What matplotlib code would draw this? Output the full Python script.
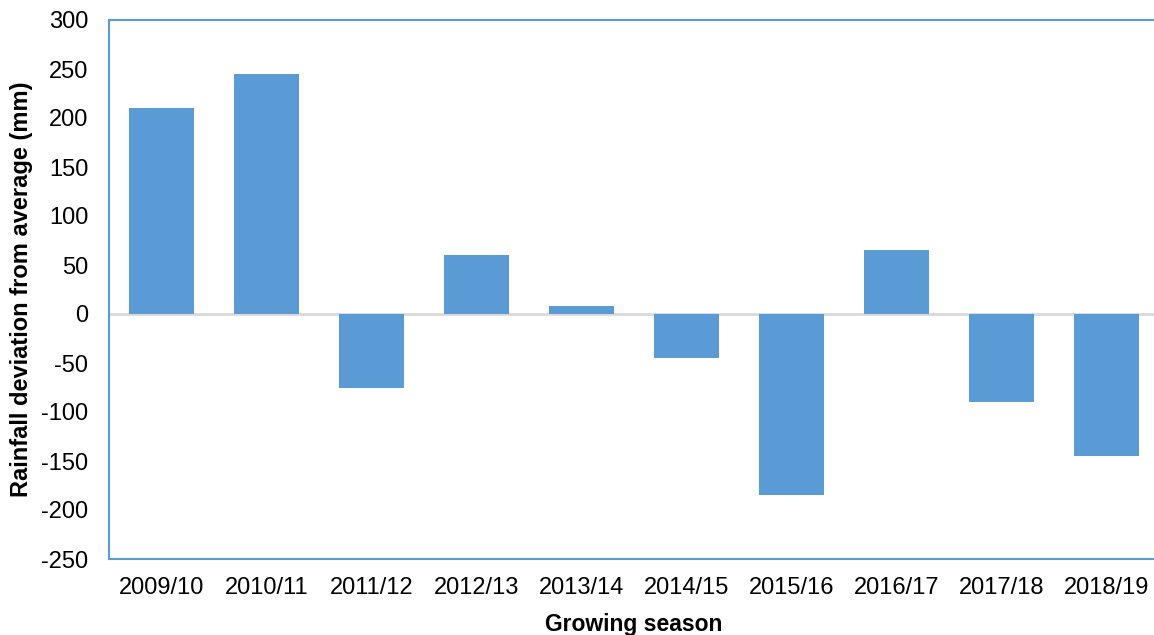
import numpy as np
import matplotlib
matplotlib.use('Agg')
import matplotlib.pyplot as plt

plt.rcParams['font.family'] = ['Liberation Sans', 'DejaVu Sans']
plt.rcParams['axes.unicode_minus'] = False

seasons = ['2009/10', '2010/11', '2011/12', '2012/13', '2013/14',
           '2014/15', '2015/16', '2016/17', '2017/18', '2018/19']
deviation = [210, 245, -75, 60, 8, -45, -185, 65, -90, -145]

bar_color = '#5B9BD5'
frame_color = '#5B9BD5'

fig = plt.figure(figsize=(11.54, 6.35), dpi=100)
ax = fig.add_axes([109/1154, 76/635, 1050/1154, 539/635])

x = np.arange(len(seasons))
ax.bar(x, deviation, width=0.62, color=bar_color, zorder=3)
ax.axhline(0, color='#D9D9D9', linewidth=2, zorder=2)

ax.set_xlim(-0.5, len(seasons) - 0.5)
ax.set_ylim(-250, 300)
ax.set_yticks(np.arange(-250, 301, 50))
ax.set_xticks(x)
ax.set_xticklabels(seasons)
ax.tick_params(axis='both', length=0, labelsize=17)
ax.tick_params(axis='x', pad=13)
ax.tick_params(axis='y', pad=15)

for s in ax.spines.values():
    s.set_color(frame_color)
    s.set_linewidth(1.5)

ax.set_xlabel('Growing season', fontsize=16.5, fontweight='bold', labelpad=10)
ax.set_ylabel('Rainfall deviation from average (mm)', fontsize=17, fontweight='bold', labelpad=6)

fig.savefig('out.png', dpi=100)
